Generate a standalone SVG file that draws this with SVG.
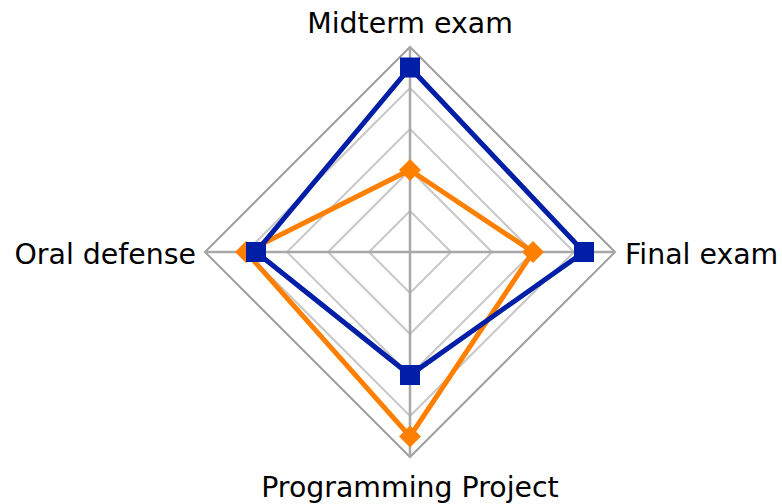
<svg xmlns="http://www.w3.org/2000/svg" width="782" height="504" viewBox="0 0 782 504">
<style>
.lbl{font-family:"DejaVu Sans",Verdana,sans-serif;font-size:28.4px;fill:#000}
.ring{fill:none;stroke:#c8c8c8;stroke-width:2}
.outer{fill:none;stroke:#a0a0a0;stroke-width:2}
.axis{stroke:#a8a8a8;stroke-width:2.5}
.blue{fill:none;stroke:#001ea6;stroke-width:5;stroke-linejoin:miter}
.orange{fill:none;stroke:#ff8000;stroke-width:5;stroke-linejoin:miter}
</style>
<rect width="782" height="504" fill="#fff"/>
<g id="grid">
<polygon class="ring" points="410,211 451,252 410,293 369,252"/>
<polygon class="ring" points="410,170 492,252 410,334 328,252"/>
<polygon class="ring" points="410,129 533,252 410,375 287,252"/>
<polygon class="ring" points="410,88 574,252 410,416 246,252"/>
<polygon class="outer" points="410,47 615,252 410,457 205,252"/>
<line class="axis" x1="410" y1="47" x2="410" y2="457"/>
<line class="axis" x1="205" y1="252" x2="615" y2="252"/>
</g>
<g id="connectors">
<polygon class="orange" points="410,170 533,252 410,436.5 246,252"/>
<polygon class="blue" points="410,67.5 584,252 410,375 256,252"/>
</g>
<g id="orange-markers" fill="#ff8000">
<polygon points="410,159 421,170 410,181 399,170"/>
<polygon points="533,241 544,252 533,263 522,252"/>
<polygon points="410,425.5 421,436.5 410,447.5 399,436.5"/>
<polygon points="246,241 257,252 246,263 235,252"/>
</g>
<g id="blue-markers" fill="#001ea6">
<rect x="400" y="57.5" width="20" height="20"/>
<rect x="574" y="242" width="20" height="20"/>
<rect x="400" y="365" width="20" height="20"/>
<rect x="246" y="242" width="20" height="20"/>
</g>
<g id="n-midterm"><text class="lbl" x="410" y="33" text-anchor="middle">Midterm exam</text></g>
<g id="n-final"><text class="lbl" x="625" y="264">Final exam</text></g>
<g id="n-project"><text class="lbl" x="410" y="497" text-anchor="middle">Programming Project</text></g>
<g id="n-oral"><text class="lbl" x="196" y="264" text-anchor="end">Oral defense</text></g>
</svg>
